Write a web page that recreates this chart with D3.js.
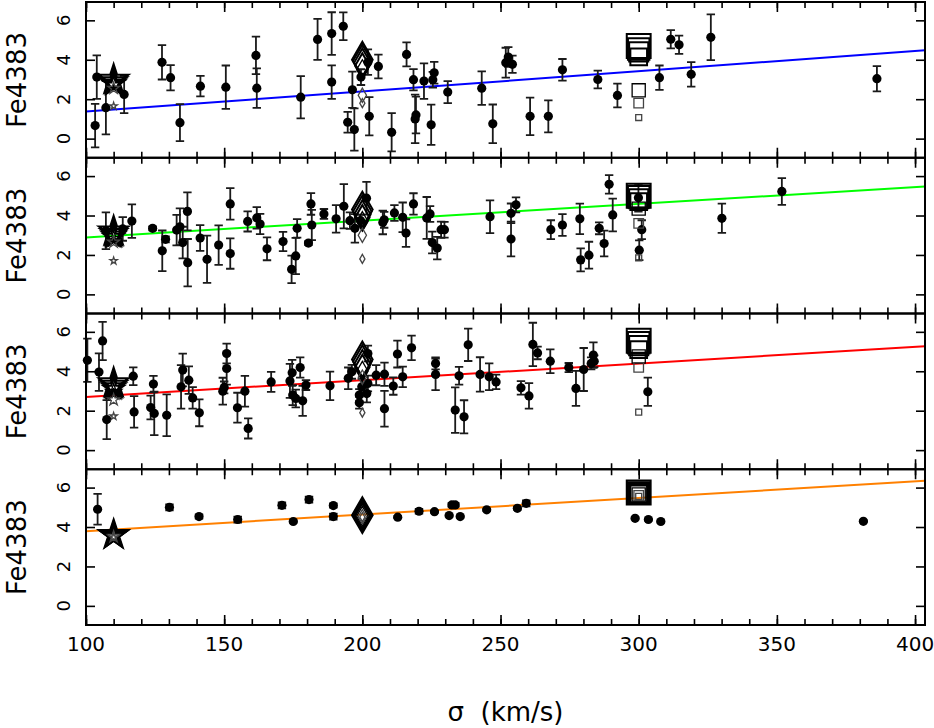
<!DOCTYPE html>
<html>
<head>
<meta charset="utf-8">
<title>Fe4383 vs sigma</title>
<script src="https://cdnjs.cloudflare.com/ajax/libs/d3/7.8.5/d3.min.js"></script>
<style>
  body { margin: 0; background: #fff; }
  text { font-family: "DejaVu Sans", sans-serif; fill: #000; }
</style>
</head>
<body>
<script>
// galaxy points: [sigma, Fe4383, error]
const panel1 = [
  [103.3,0.66,1.1],[103.9,3.12,1.1],[107.2,1.57,1.35],[113.8,2.24,0.95],
  [127.5,3.87,0.87],[130.6,3.09,0.64],[134,0.81,0.94],[141.4,2.66,0.52],[150.6,2.61,1.1],
  [161.5,4.22,0.95],[161.8,2.56,1.0],[177.7,2.10,1.07],[183.8,5.03,1.04],[188.9,5.33,1.08],
  [193.1,5.70,0.7],[188.9,2.87,0.85],[196.4,2.48,0.92],[194.7,0.83,0.53],[197.1,0.46,1.07],
  [199.5,3.12,0.4],[202,3.88,0.65],[202.5,1.13,0.97],[205.8,3.66,0.6],[210.6,0.32,0.97],
  [216,4.27,0.61],[218.5,2.99,0.54],[219.1,1.0,1.23],[219.4,1.2,0.93],[222.3,2.92,0.9],
  [224.9,0.70,1.02],[225.5,2.99,0.4],[226,3.34,0.55],[230.9,2.36,0.56],[243.2,2.56,0.85],
  [247.2,0.75,0.98],[251.9,3.85,0.76],[252.8,4.14,0.5],[254.3,3.77,0.44],[260.7,1.13,0.95],
  [267.3,1.13,0.81],[272.4,3.49,0.55],[285.2,3.0,0.45],[292.3,2.19,0.6],[307.5,3.09,0.62],
  [311.6,5.04,0.46],[314.6,4.76,0.46],[319,3.26,0.62],[326.1,5.14,1.16],[386.2,3.04,0.64]
];
const panel2 = [
  [107.2,3.23,0.93],[113.3,3.32,0.6],[116.6,3.72,0.85],[124.1,3.35,0.1],[127.6,2.21,1.03],
  [128.8,2.79,0.15],[132.8,3.26,0.77],[134,3.43,0.93],[135,2.63,0.8],[136.7,4.21,0.96],
  [136.8,1.61,1.2],[141.3,2.86,0.65],[143.8,1.78,1.2],[148,2.5,1.0],[152.2,4.59,0.8],
  [152.2,2.07,0.77],[158.5,3.70,0.51],[161.8,3.88,0.55],[163,3.57,0.51],[165.5,2.31,0.58],
  [171.3,2.68,0.49],[174.4,1.27,0.7],[175.9,1.95,0.92],[176.4,3.35,0.47],[180.5,2.6,0.1],
  [181.4,4.59,0.55],[181.7,3.52,0.77],[186.1,4.08,0.25],[190.5,3.83,0.7],[193.3,4.47,1.12],
  [195.5,3.74,0.42],[197.3,3.35,0.72],[201.5,4.88,0.83],[199.4,3.74,0.3],[207.4,3.65,0.6],
  [207.9,3.78,0.4],[211.6,4.13,0.4],[214.6,3.91,0.75],[215.8,3.11,0.7],[218.5,4.59,0.54],
  [223.3,3.88,1.06],[224.5,4.08,0.4],[225.3,2.63,0.55],[227.1,2.35,0.57],[228.5,3.28,0.41],
  [229.7,3.28,0.4],[246.2,3.94,0.83],[253.8,4.11,0.5],[253.8,2.81,0.88],[255.6,4.54,0.38],
  [268.2,3.28,0.48],[272.4,3.52,0.55],[278.7,3.83,0.77],[279,1.75,0.58],[282,1.99,0.68],
  [285.7,3.35,0.3],[287.5,2.58,0.65],[289.3,5.58,0.47],[290.6,4.03,0.83],[299.9,4.90,0.7],
  [301.1,3.28,0.48],[300.2,2.24,0.5],[330.1,3.86,0.74],[351.8,5.22,0.68]
];
const panel3 = [
  [100.5,4.56,1.1],[104.7,3.96,0.95],[106,5.54,0.97],[107.5,1.55,0.99],[117.1,3.75,0.45],
  [117.4,1.94,0.8],[123.4,2.16,0.6],[124.4,3.35,0.42],[124.7,1.86,1.1],[129.2,1.77,1.06],
  [134.4,3.21,1.1],[135,4.06,0.83],[137.2,3.55,0.7],[138.6,2.65,0.55],[141,1.89,0.68],
  [149.5,2.99,0.68],[150,3.18,0.3],[150.9,4.9,0.5],[150.9,4.14,0.82],[154.8,2.15,0.76],
  [157.5,2.99,0.78],[158.7,1.1,0.51],[167,3.46,0.51],[173.8,3.51,0.86],[174.6,3.92,0.66],
  [174.8,2.79,0.51],[175.9,2.62,0.45],[177.5,4.19,0.51],[178.4,2.5,0.76],[179.6,3.3,0.25],
  [188.3,3.26,0.72],[194.9,3.64,0.55],[196.2,3.97,0.35],[198.9,2.4,0.3],[198.9,2.79,0.3],
  [199.8,3.21,0.4],[201.6,2.87,0.45],[202,3.38,0.4],[202,4.9,0.4],[205,3.8,0.51],[208,3.85,0.59],
  [208,2.1,0.91],[211.2,3.25,0.44],[212.7,4.87,0.68],[214.6,3.72,0.52],[217.8,5.19,0.62],
  [226.5,4.4,0.3],[226.5,3.84,0.8],[233.6,2.03,1.15],[235,3.77,0.45],[236.8,1.69,0.84],
  [238.3,5.34,0.82],[242.6,3.84,0.87],[245.9,3.72,0.68],[248.4,3.46,0.37],[257.4,3.16,0.34],
  [260.3,2.75,0.65],[261.7,5.36,1.1],[263.4,4.93,0.32],[268,4.51,0.6],[274.7,4.19,0.23],
  [277.3,3.13,0.89],[280.1,4.09,1.09],[282.8,4.4,0.3],[283.6,4.82,0.65],[283.9,4.51,0.3],
  [303.3,2.96,0.72]
];
const panel4 = [
  [104.2,4.9,0.78],[130.2,5.0,0.15],[140.9,4.53,0.1],[154.9,4.38,0.15],[170.9,5.1,0.15],
  [175,4.28,0.05],[180.7,5.39,0.15],[189.5,5.09,0.1],[189.5,4.53,0.15],[212.8,4.5,0.05],
  [220.5,4.8,0.12],[226.1,4.78,0.05],[231.4,4.58,0.05],[232.4,5.12,0.1],[233.6,5.12,0.1],
  [235.4,4.53,0.05],[245,4.87,0.05],[256.1,4.95,0.08],[259.3,5.2,0.15],[298.7,4.44,0.05],
  [303.5,4.38,0.05],[308,4.28,0.05],[381.3,4.29,0.05]
];

// model tracks (largest symbol first)
const modelScale = [1, 0.9, 0.8, 0.7, 0.55, 0.4, 0.25];
const starModels = [
  [3.0, 2.9, 2.8, 2.75, 2.7, 2.55, 1.65],
  [3.2, 3.1, 3.0, 2.9, 2.8, 2.65, 1.7],
  [3.4, 3.3, 3.2, 3.1, 2.95, 2.55, 1.72],
  [3.6, 3.58, 3.56, 3.54, 3.52, 3.5, 3.48]
];
const diamondModels = [
  [4.0, 3.95, 3.85, 3.7, 3.5, 2.2, 1.8],
  [4.3, 4.2, 4.05, 3.9, 3.7, 3.0, 1.8],
  [4.6, 4.5, 4.35, 4.2, 4.0, 3.7, 1.9],
  [4.6, 4.6, 4.58, 4.56, 4.55, 4.52, 4.5]
];
const squareModels = [
  [4.7, 4.55, 4.4, 4.15, 2.45, 1.8, 1.07],
  [5.0, 4.95, 4.85, 4.7, 4.35, 3.6, 1.85],
  [5.55, 5.45, 5.3, 5.1, 4.75, 4.2, 1.93],
  [5.75, 5.72, 5.7, 5.68, 5.65, 5.6, 5.55]
];
const modelSigma = { star: 110, diamond: 200, square: 300 };

// linear fits: Fe = a + b * sigma
const fitA = [0.346, 2.04, 1.853, 2.947];
const fitB = [0.01024, 0.0085, 0.00847, 0.00843];
const fitColors = ["#0000ff", "#00ff00", "#ff0000", "#ff8000"];

const xTicksMajor = [100, 150, 200, 250, 300, 350, 400];
const yTicks = [0, 2, 4, 6];

const panels = [panel1, panel2, panel3, panel4];

const width = 934, height = 728;
const left = 86, right = 925, top0 = 2, panelH = 155.75;

const svg = d3.select("body").append("svg")
  .attr("width", width)
  .attr("height", height);

const x = d3.scaleLinear().domain([100, 403.6]).range([left, right]);
const xMinor = d3.range(100, 404, 10);

panels.forEach((pts, i) => {
  const top = top0 + i * panelH;
  const y = d3.scaleLinear().domain([-0.97, 6.93]).range([top + panelH, top]);
  const g = svg.append("g");

  // fit line
  g.append("line")
    .attr("x1", x(100)).attr("y1", y(fitA[i] + fitB[i] * 100))
    .attr("x2", x(403.6)).attr("y2", y(fitA[i] + fitB[i] * 403.6))
    .attr("stroke", fitColors[i]).attr("stroke-width", 2);

  // error bars
  const eb = g.append("g").attr("stroke", "#1a1a1a").attr("stroke-width", 1.8);
  eb.selectAll(".bar").data(pts).enter().append("path")
    .attr("d", d => {
      const cx = x(d[0]), y1 = y(d[1] + d[2]), y2 = y(d[1] - d[2]);
      return `M${cx},${y1}V${y2}M${cx - 4.2},${y1}H${cx + 4.2}M${cx - 4.2},${y2}H${cx + 4.2}`;
    });

  // dots
  g.selectAll("circle").data(pts).enter().append("circle")
    .attr("cx", d => x(d[0]))
    .attr("cy", d => y(d[1]))
    .attr("r", 4.6)
    .attr("fill", "#000");

  // model symbols
  const drawModels = (vals, type, base, sx) => {
    g.selectAll(null).data(vals).enter().append("path")
      .attr("d", (v, k) => d3.symbol().type(type).size(base * modelScale[k] * modelScale[k])())
      .attr("transform", v => `translate(${x(sx)},${y(v)})`)
      .attr("fill", "none")
      .attr("stroke", (v, k) => k < 5 ? "#000" : "#444")
      .attr("stroke-width", (v, k) => k < 4 ? 2 : 1.3);
  };
  drawModels(starModels[i], d3.symbolStar, 270, modelSigma.star);
  drawModels(diamondModels[i], d3.symbolDiamond, 370, modelSigma.diamond);
  drawModels(squareModels[i], d3.symbolSquare, 570, modelSigma.square);

  // ticks (inward)
  const bottom = top + panelH;
  g.append("g").attr("transform", `translate(0,${bottom})`)
    .call(d3.axisBottom(x).tickValues(xMinor).tickSize(-6).tickFormat(""));
  g.append("g").attr("transform", `translate(0,${bottom})`)
    .call(d3.axisBottom(x).tickValues(xTicksMajor).tickSize(-10).tickFormat(""));
  g.append("g").attr("transform", `translate(0,${top})`)
    .call(d3.axisTop(x).tickValues(xMinor).tickSize(-6).tickFormat(""));
  g.append("g").attr("transform", `translate(0,${top})`)
    .call(d3.axisTop(x).tickValues(xTicksMajor).tickSize(-10).tickFormat(""));
  g.append("g").attr("transform", `translate(${left},0)`)
    .call(d3.axisLeft(y).tickValues(yTicks).tickSize(-9).tickFormat(""));
  g.append("g").attr("transform", `translate(${right},0)`)
    .call(d3.axisRight(y).tickValues(yTicks).tickSize(-9).tickFormat(""));
  g.selectAll(".domain").remove();
  g.selectAll(".tick line").attr("stroke", "#000").attr("stroke-width", 1.6);

  // frame
  g.append("rect")
    .attr("x", left).attr("y", top)
    .attr("width", right - left).attr("height", panelH)
    .attr("fill", "none").attr("stroke", "#000").attr("stroke-width", 2);

  // y tick labels (rotated)
  g.selectAll(".ylab").data(yTicks).enter().append("text")
    .attr("transform", d => `translate(70,${y(d)}) rotate(-90)`)
    .attr("text-anchor", "middle")
    .attr("font-size", 18)
    .text(d => d);

  // y title
  g.append("text")
    .attr("transform", `translate(26,${top + panelH / 2}) rotate(-90)`)
    .attr("text-anchor", "middle")
    .attr("font-size", 26)
    .text("Fe4383");
});

// x tick labels
const bottomEdge = top0 + 4 * panelH;
svg.selectAll(".xlab").data(xTicksMajor).enter().append("text")
  .attr("x", d => x(d))
  .attr("y", bottomEdge + 26)
  .attr("text-anchor", "middle")
  .attr("font-size", 20)
  .text(d => d);

svg.append("text")
  .attr("x", (left + right) / 2)
  .attr("y", bottomEdge + 96)
  .attr("text-anchor", "middle")
  .attr("font-size", 26)
  .attr("xml:space", "preserve")
  .text("σ  (km/s)");
</script>
</body>
</html>
